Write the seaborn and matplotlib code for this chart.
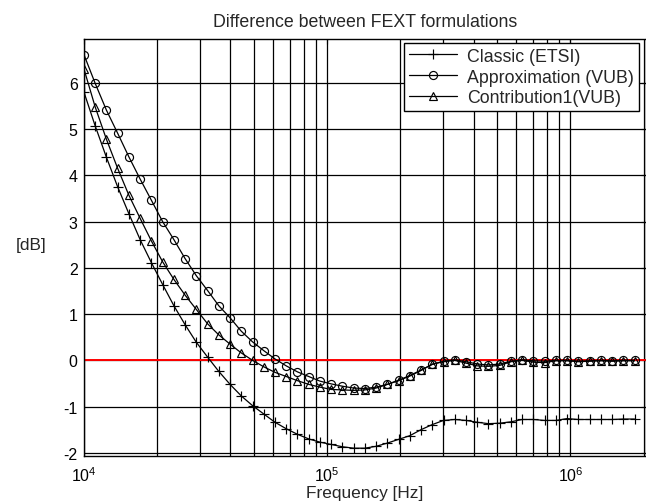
import matplotlib
matplotlib.use("Agg")
import matplotlib.pyplot as plt
import seaborn as sns

# ── Data ────────────────────────────────────────────────
freq_hz = [10000, 11120, 12370, 13760, 15300, 17020, 18940, 21060, 23430, 26050,
           28970, 32230, 35840, 39870, 44340, 49320, 54850, 61010, 67860, 75470,
           83950, 93370, 103900, 115500, 128500, 142900, 158900, 176800, 196600, 218700,
           243200, 270500, 300900, 334700, 372200, 414000, 460500, 512200, 569700, 633600,
           704700, 783800, 871800, 969600, 1078000, 1200000, 1334000, 1484000, 1650000, 1836000]

classic_etsi = [5.80, 5.07, 4.39, 3.75, 3.17, 2.61, 2.11, 1.64, 1.18, 0.77,
                0.39, 0.07, -0.24, -0.52, -0.77, -0.98, -1.16, -1.34, -1.48, -1.60,
                -1.70, -1.77, -1.82, -1.87, -1.90, -1.90, -1.86, -1.79, -1.71, -1.63,
                -1.50, -1.39, -1.30, -1.28, -1.30, -1.34, -1.37, -1.36, -1.33, -1.28,
                -1.28, -1.30, -1.30, -1.26, -1.28, -1.28, -1.28, -1.28, -1.27, -1.27]

approx_vub = [6.61, 5.99, 5.41, 4.91, 4.40, 3.92, 3.46, 3.00, 2.61, 2.20,
              1.83, 1.51, 1.18, 0.92, 0.63, 0.40, 0.21, 0.03, -0.12, -0.25,
              -0.35, -0.45, -0.51, -0.56, -0.60, -0.61, -0.58, -0.52, -0.43, -0.33,
              -0.21, -0.09, -0.02, 0.01, -0.03, -0.08, -0.10, -0.08, -0.02, 0.01,
              -0.01, -0.02, 0.00, 0.00, -0.02, -0.01, 0.00, -0.01, 0.00, 0.00]

contrib1_vub = [6.30, 5.48, 4.78, 4.15, 3.57, 3.07, 2.58, 2.13, 1.75, 1.41,
                1.10, 0.79, 0.55, 0.35, 0.16, 0.00, -0.14, -0.26, -0.35, -0.44,
                -0.52, -0.58, -0.63, -0.64, -0.65, -0.64, -0.60, -0.52, -0.44, -0.34,
                -0.22, -0.08, -0.03, 0.00, -0.06, -0.12, -0.13, -0.11, -0.03, 0.00,
                -0.04, -0.05, -0.01, -0.01, -0.03, -0.02, -0.01, -0.02, -0.01, -0.01]

y_ticks = [-2, -1, 0, 1, 2, 3, 4, 5, 6]

# ── Style ────────────────────────────────────────────────
sns.set_style("white")
plt.rcParams["font.family"] = ["Liberation Sans", "DejaVu Sans"]
plt.rcParams["font.size"] = 12

fig = plt.figure(figsize=(6.46, 5.02), dpi=100)
ax = fig.add_axes([0.130, 0.0896, 0.8695, 0.8307])
ax.set_xscale("log")

line_kw = dict(color="k", linewidth=0.9, markeredgecolor="k",
               markeredgewidth=0.85, markerfacecolor="none")
sns.lineplot(x=freq_hz, y=classic_etsi, marker="+", markersize=6.5,
             label="Classic (ETSI)", ax=ax, **line_kw)
sns.lineplot(x=freq_hz, y=approx_vub, marker="o", markersize=5.8,
             label="Approximation (VUB)", ax=ax, **line_kw)
sns.lineplot(x=freq_hz, y=contrib1_vub, marker="^", markersize=6.2,
             label="Contribution1(VUB)", ax=ax, **line_kw)

ax.axhline(0, color="red", linewidth=1.4, zorder=1.5)

ax.set_xlim(1e4, 2.04e6)
ax.set_ylim(-2.07, 6.95)
ax.set_yticks(y_ticks)
ax.set_yticklabels([str(t) for t in y_ticks])

ax.grid(which="both", axis="x", color="k", linewidth=0.9)
ax.grid(which="major", axis="y", color="k", linewidth=0.9)
ax.set_axisbelow(True)
ax.tick_params(which="both", direction="in", top=True, right=True,
               labelsize=11.5, colors="k")
ax.tick_params(axis="x", pad=6.5)
ax.tick_params(axis="y", pad=4.5)
for s in ax.spines.values():
    s.set_color("k")
    s.set_linewidth(1.0)

ax.set_title("Difference between FEXT formulations", fontsize=12.8, pad=9.5)
ax.set_xlabel("Frequency [Hz]", fontsize=12.4)
ax.xaxis.set_label_coords(0.5, -0.099)
ax.xaxis.label.set_va("baseline")
ax.set_ylabel("[dB]", fontsize=12.4, rotation=0)
ax.yaxis.set_label_coords(-0.0936, 0.508)
ax.yaxis.label.set_va("center")
ax.yaxis.label.set_ha("center")

leg = ax.legend(loc="upper right", bbox_to_anchor=(0.9875, 0.990),
                fontsize=12.8, frameon=True, fancybox=False,
                borderaxespad=0, handlelength=2.7, handletextpad=0.6,
                labelspacing=0.22, borderpad=0.25)
leg.get_frame().set_edgecolor("k")
leg.get_frame().set_linewidth(1.0)
leg.get_frame().set_alpha(1.0)

fig.savefig("out.png", dpi=100)
